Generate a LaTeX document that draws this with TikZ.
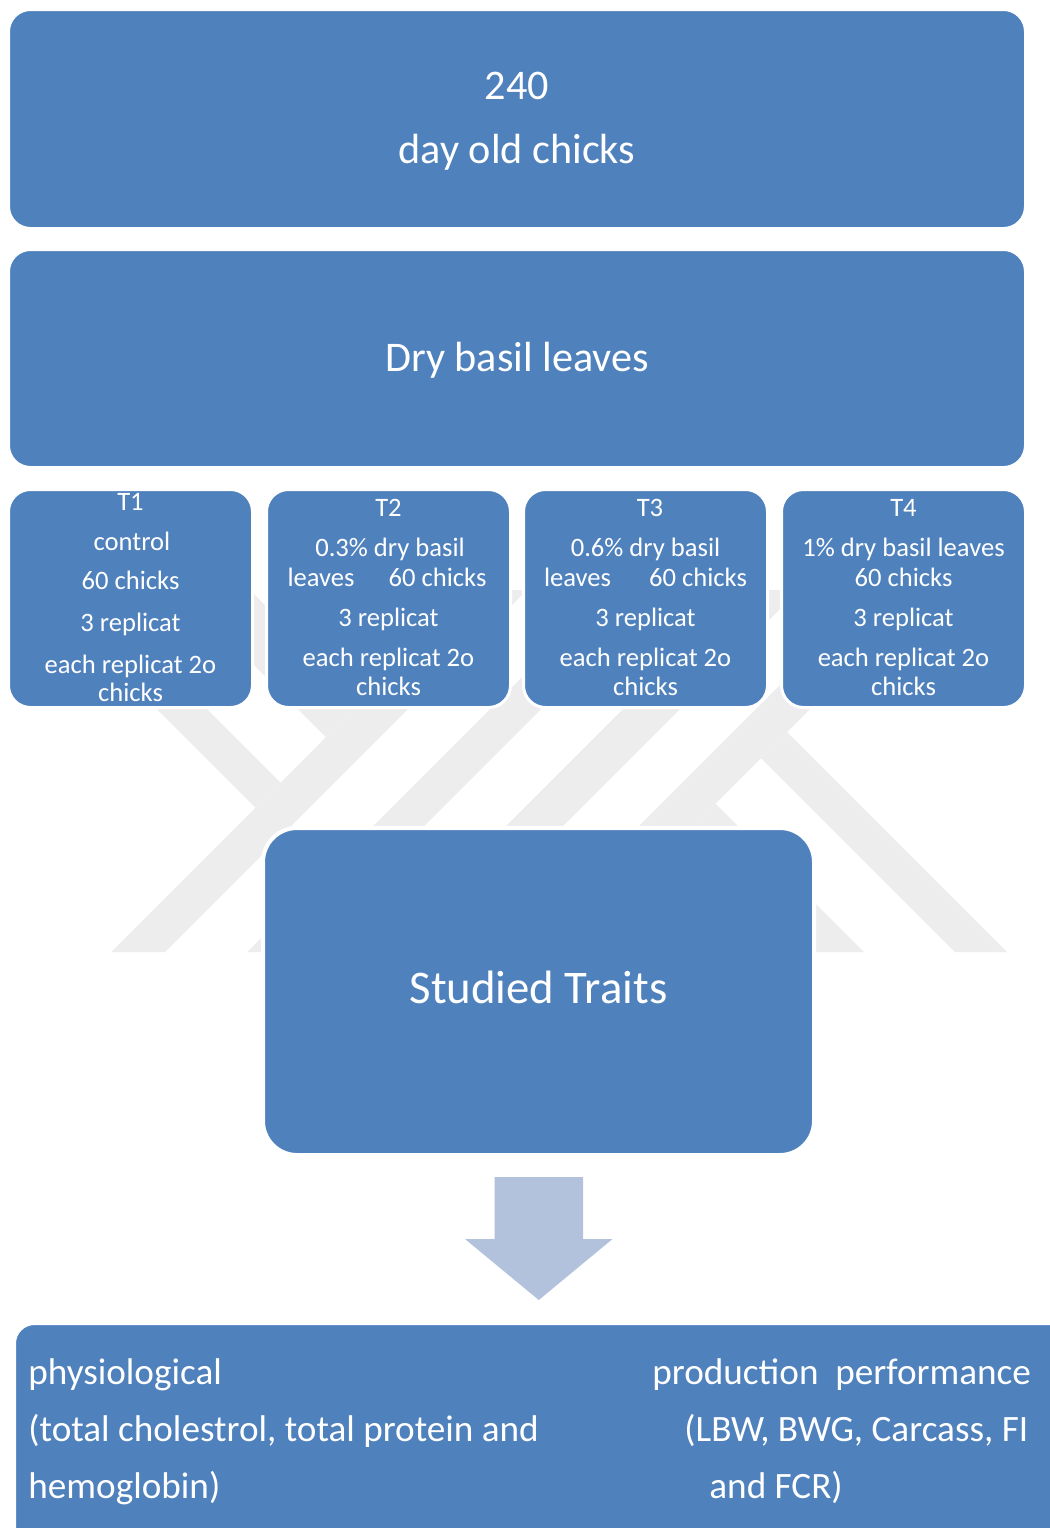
\documentclass[tikz,border=0pt]{standalone}
\usepackage{fontspec}
\setmainfont{Carlito}
\definecolor{boxblue}{RGB}{79,129,189}
\definecolor{arrowblue}{RGB}{178,194,221}
\definecolor{wmgray}{RGB}{237,237,237}
\begin{document}
\begin{tikzpicture}[x=0.5pt,y=-0.5pt,
  box/.style={draw=white, line width=1.5pt, fill=boxblue, rounded corners=11pt, inner sep=0pt},
  smalltxt/.style={text=white, inner sep=0pt, anchor=base, font=\fontsize{13.3}{15}\selectfont},
  bigtxt/.style={text=white, inner sep=0pt, anchor=base, font=\fontsize{21.1}{25}\selectfont},
  hugetxt/.style={text=white, inner sep=0pt, anchor=base, font=\fontsize{23.4}{28}\selectfont},
  bottxt/.style={text=white, inner sep=0pt, anchor=base west, font=\fontsize{18.6}{22}\selectfont},
  wmark/.style={fill=wmgray}]
\useasboundingbox (0,0) rectangle (1050,1528);
\clip (0,0) rectangle (1050,1528);
\fill[white] (0,0) rectangle (1050,1528);

% watermark (faint logo)
\fill[wmark] (38,590) -- (88,590) -- (280.5,782.5) -- (255.5,807.5) -- cycle;
\fill[wmark] (179,590) -- (250,590) -- (361.5,701.5) -- (326,737) -- cycle;
\fill[wmark] (473,590) -- (527,590) -- (165,952) -- (111,952) -- cycle;
\fill[wmark] (609,590) -- (660,590) -- (298,952) -- (247,952) -- cycle;
\fill[wmark] (742,590) -- (799,590) -- (437,952) -- (380,952) -- cycle;
\fill[wmark] (875,590) -- (929,590) -- (567,952) -- (513,952) -- cycle;
\fill[wmark] (787,732) -- (1007,952) -- (955,952) -- (761,758) -- cycle;
\fill[wmark] (687,832) -- (715.5,803.5) -- (864,952) -- (807,952) -- cycle;

% top boxes
\node[box, minimum width=508.5pt, minimum height=109.5pt] (chicks) at (517,119) {};
\node[bigtxt] (n240) at (517,99) {240};
\node[bigtxt] (nday) at (517,163) {day old chicks};

\node[box, minimum width=508.5pt, minimum height=109pt] (basil) at (517,358.5) {};
\node[bigtxt] (nbasil) at (517,371) {Dry basil leaves};

% treatment boxes
\node[box, minimum width=122pt, minimum height=109pt] (t1) at (130.5,598.5) {};
\node[box, minimum width=122pt, minimum height=109pt] (t2) at (388.5,598.5) {};
\node[box, minimum width=122pt, minimum height=109pt] (t3) at (645.5,598.5) {};
\node[box, minimum width=122pt, minimum height=109pt] (t4) at (903.5,598.5) {};

\node[smalltxt] (t1a) at (130.5,510) {T1};
\node[smalltxt] (t1b) at (132,550) {control};
\node[smalltxt] (t1c) at (130.5,589) {60 chicks};
\node[smalltxt] (t1d) at (130.5,631) {3 replicat};
\node[smalltxt] (t1e) at (130.5,673) {each replicat 2o};
\node[smalltxt] (t1f) at (130.5,701) {chicks};

\node[smalltxt] (t2a) at (388.5,516) {T2};
\node[smalltxt] (t2b) at (390,556) {0.3\% dry basil};
\node[smalltxt] (t2c) at (387,586) {leaves\hspace{17pt}60 chicks};
\node[smalltxt] (t2d) at (388.5,626) {3 replicat};
\node[smalltxt] (t2e) at (388.5,666) {each replicat 2o};
\node[smalltxt] (t2f) at (388.5,695) {chicks};

\node[smalltxt] (t3a) at (650,516) {T3};
\node[smalltxt] (t3b) at (645.5,556) {0.6\% dry basil};
\node[smalltxt] (t3c) at (645.5,586) {leaves\hspace{19pt}60 chicks};
\node[smalltxt] (t3d) at (645.5,626) {3 replicat};
\node[smalltxt] (t3e) at (645.5,666) {each replicat 2o};
\node[smalltxt] (t3f) at (645.5,695) {chicks};

\node[smalltxt] (t4a) at (903.5,516) {T4};
\node[smalltxt] (t4b) at (903.5,556) {1\% dry basil leaves};
\node[smalltxt] (t4c) at (903.5,586) {60 chicks};
\node[smalltxt] (t4d) at (903.5,626) {3 replicat};
\node[smalltxt] (t4e) at (903.5,666) {each replicat 2o};
\node[smalltxt] (t4f) at (903.5,695) {chicks};

% studied traits
\node[box, rounded corners=17pt, line width=2pt, minimum width=275.5pt, minimum height=163.5pt] (traits) at (538.5,991.5) {};
\node[hugetxt] (ntraits) at (538.5,1003) {Studied Traits};

% block arrow
\fill[arrowblue] (494.5,1177) -- (583,1177) -- (583,1239) -- (612.5,1239) -- (538.8,1300) -- (465,1239) -- (494.5,1239) -- cycle;

% bottom box
\node[box, rounded corners=10pt, anchor=north west, minimum width=600pt, minimum height=150pt] (result) at (13,1322) {};
\node[bottxt] (p1) at (28,1384) {physiological};
\node[bottxt] (p2) at (28,1441) {(total cholestrol, total protein and};
\node[bottxt] (p3) at (28,1498) {hemoglobin)};
\node[bottxt] (q1) at (652,1384) {production\ \ performance};
\node[bottxt] (q2) at (684,1441) {(LBW, BWG, Carcass, FI};
\node[bottxt] (q3) at (709,1498) {and FCR)};
\end{tikzpicture}
\end{document}
